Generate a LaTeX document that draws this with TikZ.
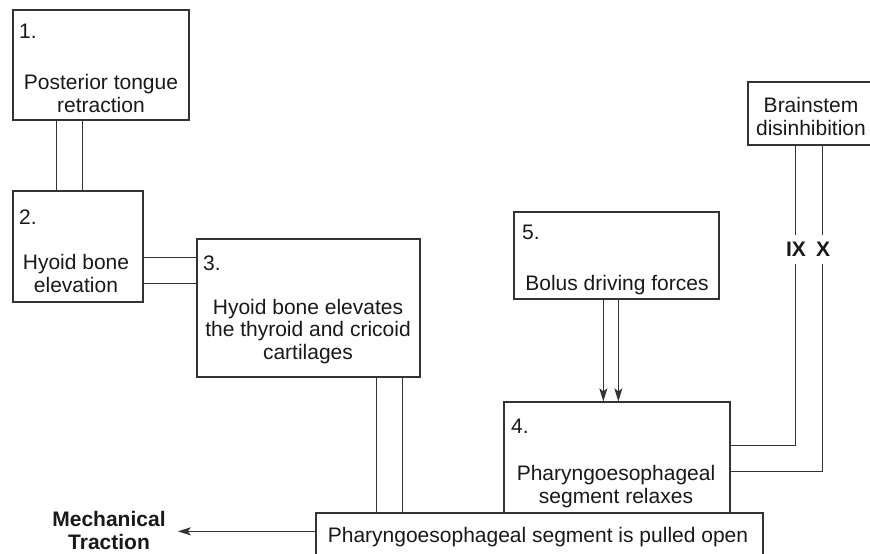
\documentclass[tikz,border=0pt]{standalone}
\usepackage{fontspec}
\setmainfont{Liberation Sans}
\usetikzlibrary{arrows.meta}

\begin{document}
\begin{tikzpicture}[x=1pt,y=-1pt,font=\fontsize{21}{22.5}\selectfont]
\tikzstyle{boxi}=[rectangle,draw=black!80,line width=1.3pt,fill=white,inner sep=0pt]
\tikzstyle{numi}=[anchor=base west,inner sep=0pt,text=black!90]
\tikzstyle{texti}=[anchor=base,inner sep=0pt,align=center,text=black!90]
\tikzstyle{nervi}=[fill=white,inner xsep=1pt,inner ysep=7pt,font=\fontsize{21}{22.5}\selectfont\bfseries,text=black!90]
\tikzstyle{link}=[draw=black!80,line width=1.3pt]
\tikzstyle{push}=[link,-{Stealth[length=13pt,width=8pt,inset=3pt]}]
\useasboundingbox (0,0) rectangle (870,554);
\clip (0,0) rectangle (870,554);
% boxes
\node [boxi,minimum width=176pt,minimum height=110pt] (one) at (101,65) {};
\node [boxi,minimum width=130pt,minimum height=111pt] (two) at (78,246.5) {};
\node [boxi,minimum width=223pt,minimum height=138pt] (three) at (308.5,308) {};
\node [boxi,minimum width=205pt,minimum height=87pt] (five) at (616.5,255.5) {};
\node [boxi,minimum width=128pt,minimum height=63pt] (brain) at (812,113.5) {};
\node [boxi,minimum width=226pt,minimum height=111pt] (four) at (617,457.5) {};
\node [boxi,minimum width=447pt,minimum height=57pt] (pull) at (539.5,541.5) {};
% numbers
\node [numi] (n1) at (19,38) {1.};
\node [numi] (n2) at (19,224) {2.};
\node [numi] (n3) at (203,270) {3.};
\node [numi] (n5) at (522,239) {5.};
\node [numi] (n4) at (511,433) {4.};
% texts (base = last line)
\node [texti] (t1) at (101,112) {Posterior tongue\\retraction};
\node [texti] (t2) at (76,292) {Hyoid bone\\elevation};
\node [texti] (t3) at (308,359) {Hyoid bone elevates\\the thyroid and cricoid\\cartilages};
\node [texti] (t5) at (617,290) {Bolus driving forces};
\node [texti] (t4) at (616,503) {Pharyngoesophageal\\segment relaxes};
\node [texti] (tb) at (811,135) {Brainstem\\disinhibition};
\node [texti] (tp) at (538,542) {Pharyngoesophageal segment is pulled open};
\node [texti,inner xsep=12pt,font=\fontsize{21}{22.5}\selectfont\bfseries] (mech) at (109,549) {Mechanical\\Traction};
% connectors
\draw [link] ([xshift=44pt]one.south west) -- ([xshift=44pt]two.north west);
\draw [link] ([xshift=70pt]one.south west) -- ([xshift=70pt]two.north west);
\draw [link] ([yshift=-67pt]two.north east) -- ([yshift=-67pt]two.north east -| three.west);
\draw [link] ([yshift=-93pt]two.north east) -- ([yshift=-93pt]two.north east -| three.west);
\draw [link] ([xshift=180pt]three.south west) -- ([xshift=180pt]three.south west |- pull.north);
\draw [link] ([xshift=206pt]three.south west) -- ([xshift=206pt]three.south west |- pull.north);
\draw [push] ([xshift=90pt]five.south west) -- ([xshift=90pt]five.south west |- four.north);
\draw [push] ([xshift=105pt]five.south west) -- ([xshift=105pt]five.south west |- four.north);
\coordinate (c9) at ([yshift=-44pt]four.north east);
\coordinate (c10) at ([yshift=-70pt]four.north east);
\draw [link] ([xshift=48pt]brain.south west) |- (c9);
\draw [link] ([xshift=75pt]brain.south west) |- (c10);
\node [nervi] (ix) at (796,249.5) {IX};
\node [nervi] (x) at (823,249.5) {X};
\draw [push] ([yshift=-19pt]pull.north west) -- ([yshift=-19pt]pull.north west -| mech.east);
\end{tikzpicture}
\end{document}
